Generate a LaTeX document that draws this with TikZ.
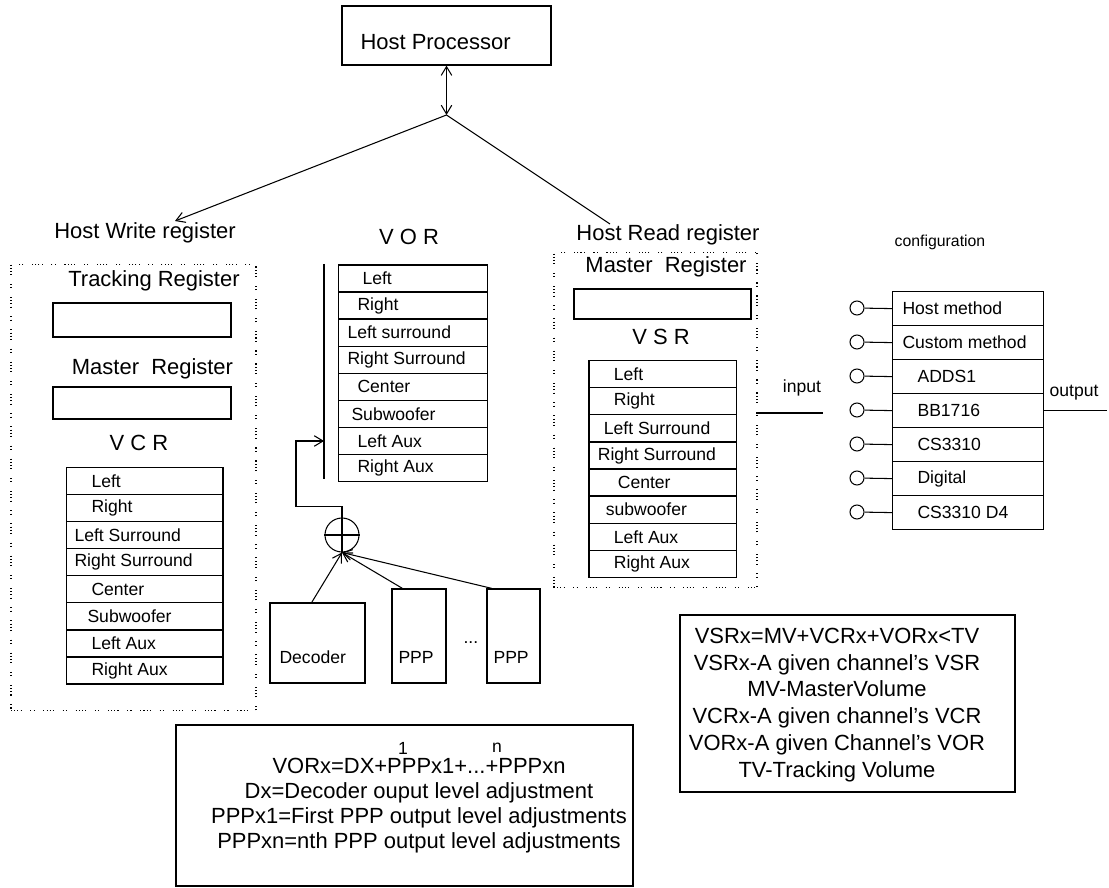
\documentclass[tikz,border=0pt]{standalone}
\usepackage{fontspec}
\setmainfont{Liberation Sans}
\usetikzlibrary{arrows.meta,calc,positioning}

\begin{document}
\begin{tikzpicture}[x=0.02cm,y=-0.02cm,
  every path/.style={line width=0.6pt},
  box/.style={draw,line width=0.7pt,inner sep=0pt},
  cell/.style={draw,line width=0.7pt,anchor=north west,inner sep=0pt,minimum height=0.542cm},
  celltxt/.style={anchor=west,inner sep=0pt,font=\fontsize{10}{12}\selectfont},
  lbl/.style={inner sep=0pt,font=\fontsize{12.5}{15}\selectfont},
  dotbox/.style={draw,line width=0.6pt,inner sep=0pt,
    dash pattern=on 0.6pt off 1.2pt on 0.6pt off 1.2pt on 0.6pt off 1.2pt on 0.6pt off 5pt on 0.6pt off 1.2pt on 0.6pt off 5pt},
  tip/.style={-{Straight Barb[length=5pt,width=6pt]}}
]
  \useasboundingbox (0,0) rectangle (1109,888);

  % Host processor and bus
  \node[box,minimum width=4.18cm,minimum height=1.18cm] (host) at (446.5,35.5) {};
  \node[lbl,anchor=west] (hosttxt) at (360,42) {Host Processor};
  \coordinate (bus) at (446.5,115);
  \coordinate (hwtip) at (175,221);
  \coordinate (hrend) at (610,224);
  \draw[{Straight Barb[length=5pt,width=6pt]}-{Straight Barb[length=5pt,width=6pt]}] (bus) -- (host.south);
  \draw[tip] (bus) -- (hwtip);
  \draw (bus) -- (hrend);
  \node[lbl] (hwlbl) at (145,233) {Host Write register};
  \node[lbl] (hrlbl) at (668,235) {Host Read register};

  % Host write register group
  \node[dotbox,minimum width=4.9cm,minimum height=8.94cm] (hwgrp) at (133.5,487.5) {};
  \node[lbl] (tracklbl) at (154,281) {Tracking Register};
  \node[box,minimum width=3.56cm,minimum height=0.68cm] (track) at (142,320) {};
  \node[lbl] (mwlbl) at (152.5,369) {Master\ \ Register};
  \node[box,minimum width=3.56cm,minimum height=0.64cm] (mwreg) at (142,403) {};
  \node[lbl] (vcrlbl) at (139,443) {V C R};
  \foreach \t/\d [count=\i from 0] in {Left/25,Right/25,Left Surround/8,Right Surround/8,Center/25,Subwoofer/21,Left Aux/25,Right Aux/25}{
    \node[cell,minimum width=3.13cm] (vcr\i) at (66,466.7+27.1*\i) {};
    \node[celltxt] (vcrt\i) at ($(vcr\i.west)+(\d,0)$) {\t};
  }

  % VOR
  \node[lbl] (vorlbl) at (409,237) {V O R};
  \foreach \t/\d [count=\i from 0] in {Left/24,Right/19,Left surround/9,Right Surround/9,Center/19,Subwoofer/13,Left Aux/19,Right Aux/19}{
    \node[cell,minimum width=2.98cm] (vor\i) at (338,264.3+27.1*\i) {};
    \node[celltxt] (vort\i) at ($(vor\i.west)+(\d,0)$) {\t};
  }
  \coordinate (bartop) at (324,264);
  \coordinate (barbot) at (324,479);
  \coordinate (fbin) at (324,441);
  \draw (bartop) -- (barbot);

  % summing point and sources
  \node[draw,circle,minimum size=0.68cm,inner sep=0pt] (sum) at (342,535) {};
  \draw (sum.north) -- (sum.south);
  \draw (sum.west) -- (sum.east);
  \draw[tip] (sum.north) -- ++(0,-11) -| (296,441) -- (fbin);
  \node[box,minimum width=1.9cm,minimum height=1.6cm] (dec) at (317.5,643) {};
  \node[celltxt] (dectxt) at (279,657) {Decoder};
  \node[box,minimum width=1.08cm,minimum height=1.88cm] (ppp1) at (419,636) {};
  \node[celltxt] (ppp1txt) at (398,657) {PPP};
  \node[celltxt] (dots) at (463,643) {...};
  \node[box,minimum width=1.06cm,minimum height=1.88cm] (ppp2) at (513.5,636) {};
  \node[celltxt] (ppp2txt) at (493,657) {PPP};
  \draw[tip] ($(dec.north west)!0.44!(dec.north east)$) -- (sum.south);
  \draw[tip] ($(ppp1.north west)!0.2!(ppp1.north east)$) -- (sum.south);
  \draw[tip] ($(ppp2.north west)!0.1!(ppp2.north east)$) -- (sum.south);

  % Host read register group
  \node[dotbox,minimum width=4.06cm,minimum height=6.72cm] (hrgrp) at (655.5,420) {};
  \node[lbl] (mrlbl) at (666,267) {Master\ \ Register};
  \node[box,minimum width=3.54cm,minimum height=0.6cm] (mrreg) at (662.5,304) {};
  \node[lbl] (vsrlbl) at (661,337) {V S R};
  \foreach \t/\d [count=\i from 0] in {Left/25,Right/25,Left Surround/15,Right Surround/9,Center/29,subwoofer/17,Left Aux/25,Right Aux/25}{
    \node[cell,minimum width=2.954cm] (vsr\i) at (588.3,360+27.1*\i) {};
    \node[celltxt] (vsrt\i) at ($(vsr\i.west)+(\d,0)$) {\t};
  }

  % configuration
  \coordinate (inA) at (756,413);
  \coordinate (inB) at (823,413);
  \draw (inA) -- (inB);
  \node[celltxt,anchor=center] (inlbl) at (802,388) {input};
  \node[celltxt,anchor=center,font=\fontsize{9}{11}\selectfont] (cfglbl) at (940,242) {configuration};
  \foreach \t/\d [count=\i from 0] in {Host method/10,Custom method/10,ADDS1/25,BB1716/25,CS3310/25,Digital/25,CS3310 D4/25}{
    \node[cell,minimum width=3.02cm,minimum height=0.68cm] (cfg\i) at (892,291+34*\i) {};
    \node[celltxt] (cfgt\i) at ($(cfg\i.west)+(\d,0)$) {\t};
    \node[draw,circle,minimum size=0.28cm,inner sep=0pt] (pin\i) at (857,308+34*\i) {};
    \draw (pin\i) -- (cfg\i.west);
  }
  \coordinate (outend) at (1107,413);
  \draw (cfg3.east) -- (cfg3.east -| outend);
  \node[celltxt,anchor=center] (outlbl) at (1074,393) {output};

  % formulas
  \node[box,minimum width=9.14cm,minimum height=3.22cm] (vorbox) at (404.5,805.5) {};
  \node[lbl,align=center,font=\fontsize{12.5}{14.2}\selectfont] (vortxt) at (419,805.5)
    {VORx=DX+PPPx1+...+PPPxn\\Dx=Decoder ouput level adjustment\\PPPx1=First PPP output level adjustments\\PPPxn=nth PPP output level adjustments};
  \node[celltxt,anchor=center] (sup1) at (403,748) {1};
  \node[celltxt,anchor=center] (supn) at (497,748) {n};
  \node[box,minimum width=6.7cm,minimum height=3.54cm] (vsrbox) at (847.5,703.5) {};
  \node[lbl,align=center,font=\fontsize{12.5}{15.3}\selectfont] (vsrtxt) at (837,705)
    {VSRx=MV+VCRx+VORx<TV\\VSRx-A given channel's VSR\\MV-MasterVolume\\VCRx-A given channel's VCR\\VORx-A given Channel's VOR\\TV-Tracking Volume};
\end{tikzpicture}
\end{document}
